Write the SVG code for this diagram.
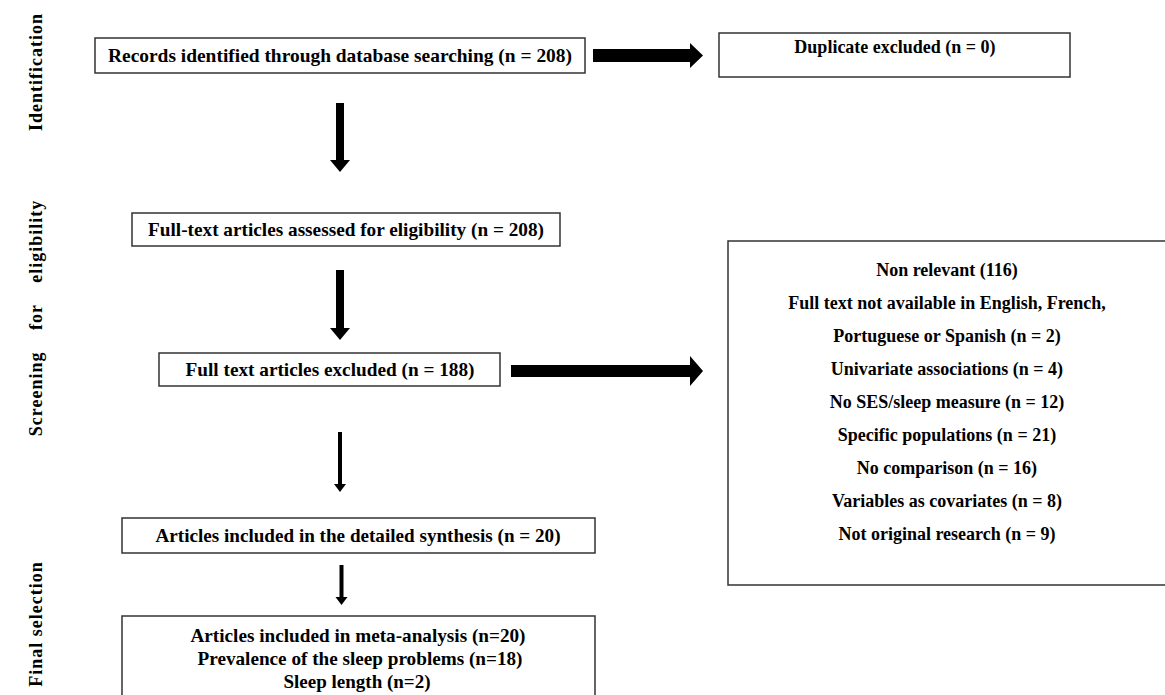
<svg xmlns="http://www.w3.org/2000/svg" width="1165" height="695" viewBox="0 0 1165 695">
<style>
.box{fill:#fff;stroke:#333;stroke-width:1.5}
.t{font-family:"Liberation Serif","Times New Roman",serif;font-weight:bold;font-size:19px;fill:#000;text-anchor:middle}
.r{font-family:"Liberation Serif","Times New Roman",serif;font-weight:bold;font-size:18px;fill:#000;text-anchor:middle}
.side{font-family:"Liberation Serif","Times New Roman",serif;font-weight:bold;font-size:18px;letter-spacing:1px;fill:#000;text-anchor:middle}
.arr{fill:#000}
</style>
<rect width="1165" height="695" fill="#fff"/>
<g id="label-identification"><text class="side" transform="translate(42,72) rotate(-90)">Identification</text></g>
<g id="label-screening"><text class="side" transform="translate(42,318) rotate(-90)" word-spacing="16">Screening for eligibility</text></g>
<g id="label-final"><text class="side" transform="translate(42,624) rotate(-90)">Final selection</text></g>

<g id="records"><rect class="box" x="95" y="38" width="490" height="35"/><text class="t" x="340" y="62" textLength="464" lengthAdjust="spacingAndGlyphs">Records identified through database searching (n = 208)</text></g>
<g id="duplicate"><rect class="box" x="719" y="33" width="351" height="44"/><text class="r" x="895" y="53">Duplicate excluded (n = 0)</text></g>
<g id="fulltext-assessed"><rect class="box" x="132" y="213" width="428" height="33"/><text class="t" x="346" y="236" textLength="396" lengthAdjust="spacingAndGlyphs">Full-text articles assessed for eligibility (n = 208)</text></g>
<g id="fulltext-excluded"><rect class="box" x="159" y="353" width="341" height="33"/><text class="t" x="330" y="376" textLength="289" lengthAdjust="spacingAndGlyphs">Full text articles excluded (n = 188)</text></g>
<g id="reasons"><path class="box" d="M1166,241 H728 V585 H1166"/>
<text class="r" x="947" y="276">Non relevant (116)</text>
<text class="r" x="947" y="309">Full text not available in English, French,</text>
<text class="r" x="947" y="342">Portuguese or Spanish (n = 2)</text>
<text class="r" x="947" y="375">Univariate associations (n = 4)</text>
<text class="r" x="947" y="408">No SES/sleep measure (n = 12)</text>
<text class="r" x="947" y="441">Specific populations (n = 21)</text>
<text class="r" x="947" y="474">No comparison (n = 16)</text>
<text class="r" x="947" y="507">Variables as covariates (n = 8)</text>
<text class="r" x="947" y="540">Not original research (n = 9)</text>
</g>
<g id="synthesis"><rect class="box" x="122" y="518" width="473" height="35"/><text class="t" x="358" y="542" textLength="405" lengthAdjust="spacingAndGlyphs">Articles included in the detailed synthesis (n = 20)</text></g>
<g id="meta"><path class="box" d="M122,700 V616 H595 V700"/>
<text class="t" x="358" y="642" textLength="335" lengthAdjust="spacingAndGlyphs">Articles included in meta-analysis (n=20)</text>
<text class="t" x="360" y="665" textLength="325" lengthAdjust="spacingAndGlyphs">Prevalence of the sleep problems (n=18)</text>
<text class="t" x="357" y="688" textLength="147" lengthAdjust="spacingAndGlyphs">Sleep length (n=2)</text>
</g>

<g id="connectors">
<path class="arr" d="M593,49 H690 V43 L703,55.5 L690,68 V62 H593 Z"/>
<path class="arr" d="M336,103 H344 V160 H350 L340,172 L330,160 H336 Z"/>
<path class="arr" d="M336,270 H344 V328 H350 L340,340 L330,328 H336 Z"/>
<path class="arr" d="M511,365 H690 V356 L703,371 L690,386 V377 H511 Z"/>
<path class="arr" d="M338,432 H342 V484 H346 L340,492 L334,484 H338 Z"/>
<path class="arr" d="M339.5,565 H343.5 V597 H347.5 L341.5,605 L335.5,597 H339.5 Z"/>
</g>
</svg>
